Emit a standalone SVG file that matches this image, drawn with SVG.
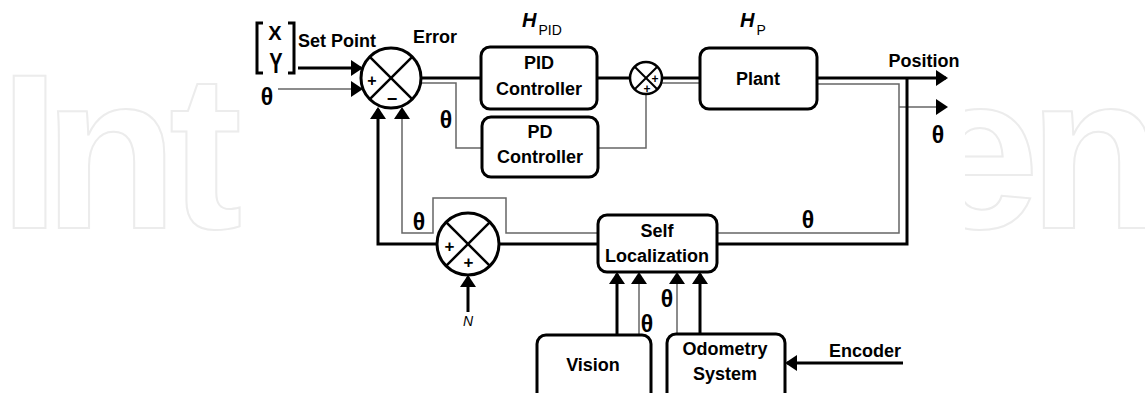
<svg xmlns="http://www.w3.org/2000/svg" width="1145" height="393" viewBox="0 0 1145 393">
<style>
.box{fill:#fff;stroke:#000;stroke-width:3}
.thick{fill:none;stroke:#000;stroke-width:3}
.thin{fill:none;stroke:#666;stroke-width:1.5}
.sum{fill:#fff;stroke:#000;stroke-width:3}
.x{stroke:#000;stroke-width:2.5}
.x3{stroke:#000;stroke-width:2}
.lbl{font-family:"Liberation Sans",Arial,sans-serif;font-weight:bold;font-size:18px;fill:#000;text-anchor:middle}
.th{font-family:"Liberation Sans",Arial,sans-serif;font-weight:bold;font-size:23px;fill:#000;text-anchor:middle}
.sg{font-family:"Liberation Sans",Arial,sans-serif;font-weight:bold;fill:#000;text-anchor:middle}
.wm{font-family:"Liberation Sans",Arial,sans-serif;font-weight:bold;font-size:220px;fill:none;stroke:#ececec;stroke-width:2}
</style>
<defs>
<marker id="ah" markerUnits="userSpaceOnUse" markerWidth="12" markerHeight="16" refX="10" refY="8" orient="auto" overflow="visible">
<path d="M0,0 L12,8 L0,16 Z" fill="#000"/>
</marker>
<clipPath id="wl"><rect x="0" y="0" width="247" height="393"/></clipPath>
<clipPath id="wr"><rect x="965" y="0" width="180" height="393"/></clipPath>
</defs>
<rect width="1145" height="393" fill="#fff"/>
<g id="watermark">
<text class="wm" clip-path="url(#wl)" x="-1 43.5 169" y="228">Int</text>
<text class="wm" clip-path="url(#wr)" x="917 1028.5" y="228">en</text>
</g>
<g id="connectors">
<path class="thick" d="M298,68 H361" marker-end="url(#ah)"/>
<path class="thin" d="M278,89 H361" marker-end="url(#ah)"/>
<path class="thick" d="M421,78 H481"/>
<path class="thin" d="M420.6,83 H456 V148 H482"/>
<path class="thick" d="M597,78 H630"/>
<path class="thin" d="M598,148 H646 V94"/>
<path class="thick" d="M662,78 H700"/>
<path class="thin" d="M661,83 H700"/>
<path class="thick" d="M817,78 H946" marker-end="url(#ah)"/>
<path class="thin" d="M817,84 H899 V233 H717"/>
<path class="thin" d="M899,107 H946" marker-end="url(#ah)"/>
<path class="thick" d="M907,78 V244 H717"/>
<path class="thick" d="M598,244 H499"/>
<path class="thick" d="M437,244 H378 V109" marker-end="url(#ah)"/>
<path class="thin" d="M598,233 H506 V198 H433 V233 H402 V109" marker-end="url(#ah)"/>
<path class="thick" d="M468,312 V277" marker-end="url(#ah)"/>
<path class="thick" d="M617,335 V274" marker-end="url(#ah)"/>
<path class="thin" d="M639,335 V274" marker-end="url(#ah)"/>
<path class="thin" d="M677,334 V274" marker-end="url(#ah)"/>
<path class="thick" d="M700,334 V274" marker-end="url(#ah)"/>
<path class="thick" d="M903,363 H787" marker-end="url(#ah)"/>
</g>
<g id="setpoint">
<path class="thick" d="M263,23 H257 V73 H263"/>
<path class="thick" d="M288,23 H294 V73 H288"/>
<text class="sg" x="275" y="40" font-size="20">X</text>
<text class="sg" font-size="20" transform="translate(276,73) scale(1,1.45)">Y</text>
<text class="lbl" x="298" y="47" style="text-anchor:start">Set Point</text>
<text class="th" x="267" y="105">θ</text>
</g>
<g id="sum-error">
<circle class="sum" cx="391" cy="78" r="30"/>
<line class="x" x1="369.8" y1="56.8" x2="412.2" y2="99.2"/>
<line class="x" x1="412.2" y1="56.8" x2="369.8" y2="99.2"/>
<text class="sg" x="372" y="86" font-size="16">+</text>
<text class="sg" x="392" y="105" font-size="18">−</text>
<text class="lbl" x="413" y="43" style="text-anchor:start">Error</text>
</g>
<text class="th" x="446" y="128">θ</text>
<g id="pid">
<rect class="box" x="481" y="47" width="116" height="62" rx="9"/>
<text class="lbl" x="539" y="69">PID</text>
<text class="lbl" x="539" y="95">Controller</text>
<text x="522" y="27" font-family="Liberation Sans,Arial,sans-serif" fill="#000"><tspan font-size="20" font-weight="bold" font-style="italic">H</tspan><tspan font-size="14" dy="8" dx="2">PID</tspan></text>
</g>
<g id="pd">
<rect class="box" x="482" y="117" width="116" height="60" rx="9"/>
<text class="lbl" x="540" y="138">PD</text>
<text class="lbl" x="540" y="163">Controller</text>
</g>
<g id="sum-ctrl">
<circle class="sum" cx="646" cy="78" r="16" style="stroke-width:2.5"/>
<line class="x3" x1="634.7" y1="66.7" x2="657.3" y2="89.3"/>
<line class="x3" x1="657.3" y1="66.7" x2="634.7" y2="89.3"/>
<text class="sg" x="655" y="83" font-size="12">+</text>
<text class="sg" x="647" y="93" font-size="12">+</text>
</g>
<g id="plant">
<rect class="box" x="700" y="48" width="117" height="61" rx="9"/>
<text class="lbl" x="758" y="85">Plant</text>
<text x="740" y="27" font-family="Liberation Sans,Arial,sans-serif" fill="#000"><tspan font-size="20" font-weight="bold" font-style="italic">H</tspan><tspan font-size="14" dy="8" dx="2">P</tspan></text>
</g>
<g id="outputs">
<text class="lbl" x="924" y="67">Position</text>
<text class="th" x="938" y="143">θ</text>
</g>
<g id="sum-noise">
<circle class="sum" cx="468" cy="244" r="31"/>
<line class="x" x1="446.1" y1="222.1" x2="489.9" y2="265.9"/>
<line class="x" x1="489.9" y1="222.1" x2="446.1" y2="265.9"/>
<text class="sg" x="449.5" y="251.5" font-size="17">+</text>
<text class="sg" x="468.5" y="267.5" font-size="17">+</text>
<text class="th" x="419" y="230">θ</text>
<text x="468" y="326" font-family="Liberation Sans,Arial,sans-serif" font-size="14" font-style="italic" text-anchor="middle" fill="#000">N</text>
</g>
<g id="selfloc">
<rect class="box" x="598" y="215" width="119" height="57" rx="9"/>
<text class="lbl" x="657" y="237">Self</text>
<text class="lbl" x="657" y="262">Localization</text>
<text class="th" x="808" y="228">θ</text>
</g>
<g id="vision">
<rect class="box" x="537" y="335" width="114" height="75" rx="9"/>
<text class="lbl" x="593" y="371">Vision</text>
<text class="th" x="647" y="332">θ</text>
</g>
<g id="odometry">
<rect class="box" x="667" y="334" width="118" height="75" rx="9"/>
<text class="lbl" x="725" y="355">Odometry</text>
<text class="lbl" x="725" y="380">System</text>
<text class="th" x="667" y="307">θ</text>
</g>
<g id="encoder">
<text class="lbl" x="865" y="357">Encoder</text>
</g>
</svg>
